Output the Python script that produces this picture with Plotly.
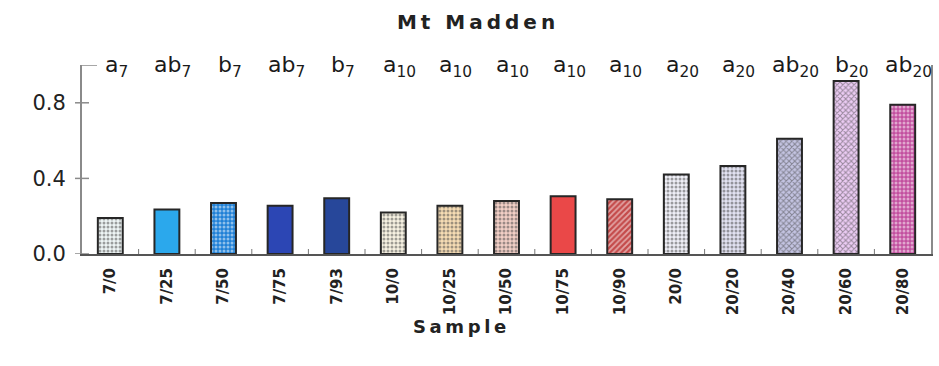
import plotly.graph_objects as go

# ---- data ----
samples = ["7/0", "7/25", "7/50", "7/75", "7/93",
           "10/0", "10/25", "10/50", "10/75", "10/90",
           "20/0", "20/20", "20/40", "20/60", "20/80"]
values = [0.19, 0.235, 0.27, 0.255, 0.295,
          0.22, 0.255, 0.28, 0.305, 0.29,
          0.42, 0.465, 0.61, 0.915, 0.79]
groups = ["a<sub>7</sub>", "ab<sub>7</sub>", "b<sub>7</sub>", "ab<sub>7</sub>", "b<sub>7</sub>",
          "a<sub>10</sub>", "a<sub>10</sub>", "a<sub>10</sub>", "a<sub>10</sub>", "a<sub>10</sub>",
          "a<sub>20</sub>", "a<sub>20</sub>", "ab<sub>20</sub>", "b<sub>20</sub>", "ab<sub>20</sub>"]
y_ticks = [0.0, 0.4, 0.8]
y_tick_labels = ["0.0", "0.4", "0.8"]
y_max = 1.0
title_text = "Mt Madden"
x_title_text = "Sample"

# ---- styles ----
fill_colors = ["#eef5f5", "#2ba8ec", "#1f80d6", "#2c46b4", "#27479a",
               "#f7f2e2", "#f6dcb4", "#f2cfc6", "#ea4848", "#c44a4a",
               "#efeff7", "#e2e2f2", "#c4c4e2", "#ecccf4", "#c2509f"]
pat_shapes = [".", "", ".", "", "",
              ".", ".", ".", "", "/",
              ".", ".", "x", "x", "."]
pat_colors = ["#7fa6ae", "#2ba8ec", "#62aee8", "#2c46b4", "#27479a",
              "#e2d8c0", "#d88e5a", "#c45444", "#ea4848", "#9e3434",
              "#c8c8dc", "#8c8cc6", "#4c4c88", "#8c58ae", "#a23a88"]
TICK_COLOR = "#8a8a8a"

THIN = "\u2009"


def spaced(s):
    return THIN.join(list(s))


fig = go.Figure()
fig.add_trace(go.Bar(
    x=samples, y=values,
    marker=dict(color=fill_colors,
                line=dict(color="#262626", width=2),
                pattern=dict(shape=pat_shapes, fgcolor=pat_colors,
                             fillmode="overlay", size=4, solidity=0.45)),
    width=0.44,
    hoverinfo="x+y",
))

# significance letters above each bar
for s, g in zip(samples, groups):
    fig.add_annotation(x=s, y=1.0, xref="x", yref="paper", text=g,
                       showarrow=False, xanchor="center", yanchor="middle",
                       xshift=6, yshift=-1,
                       font=dict(family="DejaVu Sans", size=22, color="#1a1a1a"))

fig.add_annotation(x=0.445, y=-0.385, xref="paper", yref="paper",
                   text="<b>" + spaced(x_title_text) + "</b>", showarrow=False,
                   xanchor="center", yanchor="middle",
                   font=dict(family="DejaVu Sans", size=18, color="#222222"))

# crossing tick marks on the y axis (placed at the tick values)
for v in y_ticks:
    fig.add_shape(type="line", xref="paper", yref="y", xsizemode="pixel", xanchor=0,
                  x0=-7, x1=7, y0=v, y1=v, line=dict(color=TICK_COLOR, width=1.5))
# short inner tick at the top of the y axis
fig.add_shape(type="line", xref="paper", yref="y", xsizemode="pixel", xanchor=0,
              x0=0, x1=15, y0=y_max, y1=y_max, line=dict(color=TICK_COLOR, width=1.5))
# crossing tick marks on the x axis, between categories
for i in range(len(samples) - 1):
    fig.add_shape(type="line", xref="x", yref="y", ysizemode="pixel", yanchor=0,
                  x0=i + 0.5, x1=i + 0.5, y0=-5, y1=5,
                  line=dict(color="#777777", width=1))

fig.update_layout(
    width=939, height=366,
    margin=dict(l=82, r=6, t=65, b=112),
    paper_bgcolor="white", plot_bgcolor="white",
    showlegend=False,
    title=dict(text="<b>" + spaced(title_text) + "</b>", x=0.507, xanchor="center",
               y=1 - 22 / 366, yanchor="middle", yref="container",
               font=dict(family="DejaVu Sans", size=20, color="#222222")),
    xaxis=dict(type="category", categoryorder="array", categoryarray=samples,
               range=[-0.5, len(samples) - 0.5],
               showline=True, linecolor="#555555", linewidth=2,
               ticks="", tickangle=-90, ticklabelstandoff=6,
               showgrid=False, zeroline=False,
               tickfont=dict(family="DejaVu Sans", size=15, color="#222222", weight="bold")),
    yaxis=dict(range=[0, y_max], tickvals=y_ticks, ticktext=y_tick_labels,
               showline=True, linecolor=TICK_COLOR, linewidth=2, mirror=True,
               ticks="", ticklabelstandoff=10,
               showgrid=False, zeroline=False,
               tickfont=dict(family="DejaVu Sans", size=21, color="#222222")),
)

fig.write_html("out.html")
